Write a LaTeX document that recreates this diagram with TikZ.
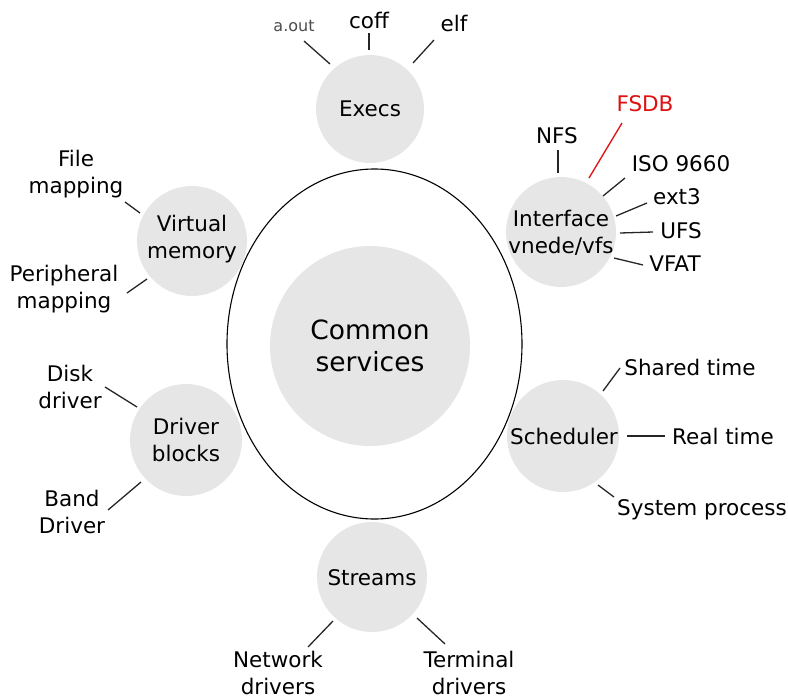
\documentclass[tikz,border=0pt]{standalone}
\usepackage{fontspec}
\setmainfont{DejaVu Sans}
\usetikzlibrary{shapes.geometric,calc}
\definecolor{bubgray}{HTML}{E6E6E6}
\definecolor{fsdbred}{HTML}{DD1111}
\begin{document}
\begin{tikzpicture}[x=1pt,y=-1pt,
  bub/.style={circle,fill=bubgray,inner sep=0pt,minimum size=#1},
  txt/.style={align=center,inner sep=0pt,font=\fontsize{21.5}{26.5}\selectfont},
  big/.style={align=center,inner sep=0pt,font=\fontsize{26.5}{32}\selectfont},
  small/.style={inner sep=0pt,font=\fontsize{16}{18}\selectfont,text=black!70},
  spoke/.style={line width=1.3pt,black!85}]
\useasboundingbox (0,0) rectangle (788,696);

% outer ellipse
\node[ellipse,draw,line width=1.1pt,minimum width=295pt,minimum height=350pt,inner sep=0pt] (ring) at (374.5,344) {};

% bubbles
\node[bub=200pt] (common) at (370,346) {};
\node[bub=108pt] (execs) at (370,109) {};
\node[bub=110pt] (iface) at (561,232) {};
\node[bub=110pt] (vm) at (192,241) {};
\node[bub=112pt] (drv) at (186,440) {};
\node[bub=112pt] (sched) at (563,436) {};
\node[bub=110pt] (streams) at (372,577) {};

% bubble texts
\node[big] (commonT) at (370,346) {Common\\services};
\node[txt] (execsT) at (execs) {Execs};
\node[txt] (ifaceT) at (561,233) {Interface\\vnede/vfs};
\node[txt] (vmT) at (192,239) {Virtual\\memory};
\node[txt] (drvT) at (186,440) {Driver\\blocks};
\node[txt] (schedT) at (564,436) {Scheduler};
\node[txt] (streamsT) at (372,578) {Streams};

% labels
\node[small] (aout) at (294,26) {a.out};
\node[txt] (coff) at (369,20) {coff};
\node[txt] (elf) at (454,23) {elf};

\node[txt] (nfs) at (557,136) {NFS};
\node[txt,text=fsdbred] (fsdb) at (645,104) {FSDB};
\node[txt] (iso) at (681,164) {ISO 9660};
\node[txt] (ext) at (677,197) {ext3};
\node[txt] (ufs) at (681,231) {UFS};
\node[txt] (vfat) at (675,264) {VFAT};

\node[txt] (fmap) at (76,174) {File\\mapping};
\node[txt] (pmap) at (64,289) {Peripheral\\mapping};

\node[txt] (disk) at (70,387) {Disk\\driver};
\node[txt] (band) at (72,512) {Band\\Driver};

\node[txt] (shared) at (690,367) {Shared time};
\node[txt] (real) at (723,436) {Real time};
\node[txt] (sys) at (702,510) {System process};

\node[txt] (net) at (278,673) {Network\\drivers};
\node[txt] (term) at (469,673) {Terminal\\drivers};

% spokes
\draw[spoke] ($(execs)+(-66,-68)$) -- ($(execs)+(-40,-45)$);
\draw[spoke] ($(execs)+(-1,-76)$) -- ($(execs)+(-1,-59)$);
\draw[spoke] ($(execs)+(64,-69)$) -- ($(execs)+(43,-46)$);

\draw[spoke] ($(iface)+(-3,-82)$) -- ($(iface)+(-3,-59)$);
\draw[line width=1.3pt,fsdbred] ($(iface)+(61,-109)$) -- ($(iface)+(28,-54)$);
\draw[spoke] ($(iface)+(64,-54)$) -- ($(iface)+(42,-36)$);
\draw[spoke] ($(iface)+(86,-29)$) -- ($(iface)+(55,-16)$);
\draw[spoke] ($(iface)+(92,0)$) -- ($(iface)+(59,1)$);
\draw[spoke] ($(iface)+(82,33)$) -- ($(iface)+(53,26)$);

\draw[spoke] ($(vm)+(-67,-39)$) -- ($(vm)+(-52,-28)$);
\draw[spoke] ($(vm)+(-65,52)$) -- ($(vm)+(-45,38)$);

\draw[spoke] ($(drv)+(-81,-53)$) -- ($(drv)+(-49,-33)$);
\draw[spoke] ($(drv)+(-78,70)$) -- ($(drv)+(-45,42)$);

\draw[spoke] ($(sched)+(57,-68)$) -- ($(sched)+(40,-45)$);
\draw[spoke] ($(sched)+(64,0)$) -- ($(sched)+(102,0)$);
\draw[spoke] ($(sched)+(35,49)$) -- ($(sched)+(51,61)$);

\draw[spoke] ($(streams)+(-64,70)$) -- ($(streams)+(-39,44)$);
\draw[spoke] ($(streams)+(73,67)$) -- ($(streams)+(45,41)$);
\end{tikzpicture}
\end{document}
